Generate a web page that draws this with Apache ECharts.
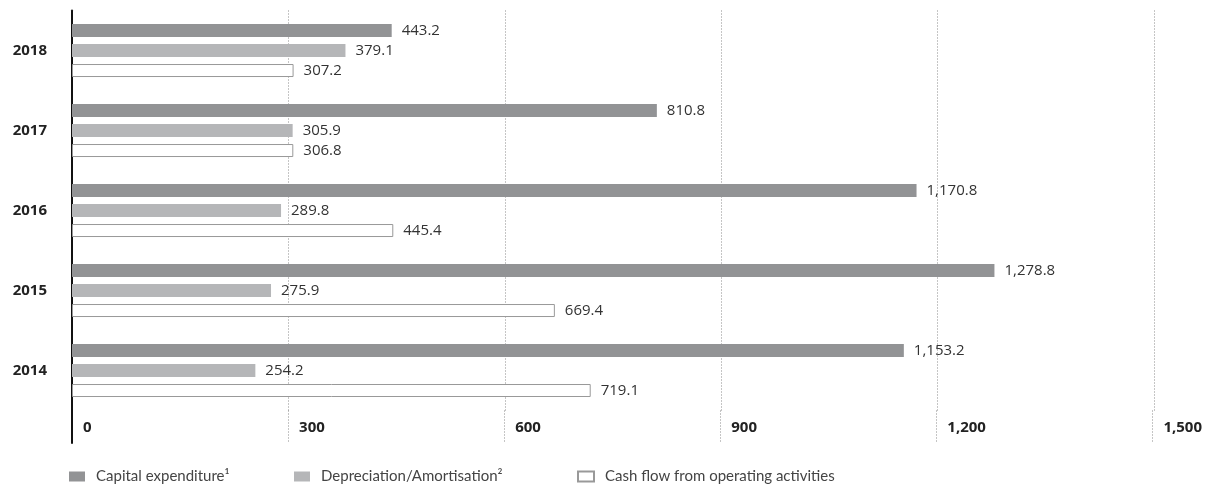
<!DOCTYPE html>
<html>
<head>
<meta charset="utf-8">
<script src="https://cdn.jsdelivr.net/npm/echarts@6/dist/echarts.min.js"></script>
<style>
html,body{margin:0;padding:0;background:#fff;}
#chart{width:1205px;height:485px;}
</style>
</head>
<body>
<div id="chart"></div>
<script>
// 年份（从上到下）
var years=['2018','2017','2016','2015','2014'];
// 三组数据，顺序同上
var capex=[443.2,810.8,1170.8,1278.8,1153.2];
var depreciation=[379.1,305.9,289.8,275.9,254.2];
var cashFlow=[307.2,306.8,445.4,669.4,719.1];
var seriesNames=['Capital expenditure\u00b9','Depreciation/Amortisation\u00b2','Cash flow from operating activities'];
var xTicks=[0,300,600,900,1200,1500];

var font='"Open Sans", "Noto Sans", sans-serif';
var legendFont='Lato, "Open Sans", sans-serif';

function fmt(v){
    return Number(v).toLocaleString('en-US',{minimumFractionDigits:1,maximumFractionDigits:1});
}

function loadChart(){
    var mychart=echarts.init(document.getElementById('chart'));
    var dotted={show:true,lineStyle:{type:[1,2],color:'#8a8a8a',width:1}};
    var valueLabel={show:true,position:'right',distance:10,color:'#333',fontSize:15,fontFamily:font,
        formatter:function(p){return fmt(p.value);}};
    function legendAt(name,left){
        return {
            data:[name],left:left,top:469,icon:'rect',itemWidth:16,itemHeight:10,padding:0,
            textStyle:{color:'#444',fontSize:15,fontFamily:legendFont,padding:[0,0,0,6]}
        };
    }
    var option={
        animation:false,
        textStyle:{fontFamily:font},
        legend:[
            legendAt(seriesNames[0],69),
            legendAt(seriesNames[1],294),
            legendAt(seriesNames[2],577)
        ],
        grid:[
            {left:72,right:51,top:10.5,height:400},
            {left:72,right:51,top:410.5,height:32.5}
        ],
        xAxis:[
            {gridIndex:0,type:'value',min:xTicks[0],max:xTicks[xTicks.length-1],interval:300,
             axisLine:{show:false},axisTick:{show:false},axisLabel:{show:false},splitLine:dotted},
            {gridIndex:1,type:'value',min:xTicks[0],max:xTicks[xTicks.length-1],interval:300,
             axisLine:{show:false},axisTick:{show:false},splitLine:dotted,
             axisLabel:{inside:true,margin:8,align:'left',padding:[0,0,0,11],color:'#222',
                 fontSize:15,fontWeight:'bold',fontFamily:font,showMaxLabel:true,
                 formatter:function(v){return Number(v).toLocaleString('en-US');}}}
        ],
        yAxis:[
            {gridIndex:0,type:'category',data:years,inverse:true,
             axisLine:{show:true,lineStyle:{color:'#111',width:2}},axisTick:{show:false},
             axisLabel:{margin:25,color:'#222',fontSize:15,fontWeight:'bold',fontFamily:font}},
            {gridIndex:1,type:'value',
             axisLine:{show:true,lineStyle:{color:'#111',width:2}},axisTick:{show:false},
             axisLabel:{show:false},splitLine:{show:false}}
        ],
        series:[
            {name:seriesNames[0],type:'bar',data:capex,barWidth:13,barGap:'54%',
             itemStyle:{color:'#929395'},label:valueLabel},
            {name:seriesNames[1],type:'bar',data:depreciation,barWidth:13,barGap:'54%',
             itemStyle:{color:'#b5b6b8'},label:valueLabel},
            {name:seriesNames[2],type:'bar',data:cashFlow,barWidth:13,barGap:'54%',
             itemStyle:{color:'#ffffff',borderColor:'#999999',borderWidth:1},label:valueLabel}
        ]
    };
    mychart.setOption(option);
}
loadChart();
</script>
</body>
</html>
